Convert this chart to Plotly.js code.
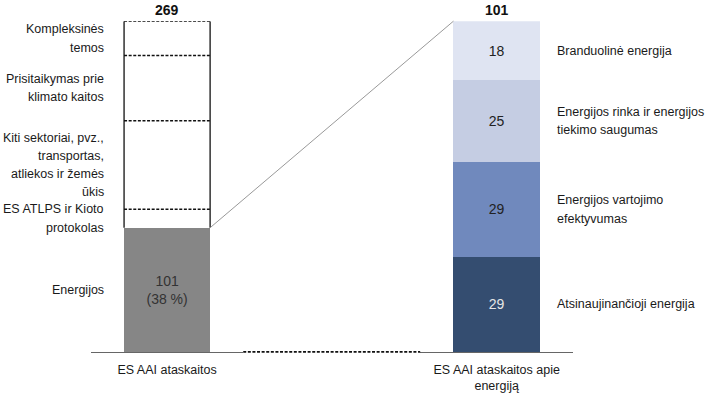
<!DOCTYPE html>
<html>
<head>
<meta charset="utf-8">
<script src="https://cdn.plot.ly/plotly-3.0.1.min.js"></script>
<style>html,body{margin:0;padding:0;background:#fff;}#chart{width:705px;height:399px;}</style>
</head>
<body>
<div id="chart"></div>
<script>
// ---- data ----
const barCategories = ['ES AAI ataskaitos', 'ES AAI ataskaitos apie<br>energiją'];
const leftSegments = ['Energijos', 'ES ATLPS ir Kioto<br>protokolas', 'Kiti sektoriai, pvz.,<br>transportas,<br>atliekos ir žemės<br>ūkis', 'Prisitaikymas prie<br>klimato kaitos', 'Kompleksinės<br>temos'];
const leftValues = [101, 15, 72, 53, 28];
const rightSegments = ['Atsinaujinančioji energija', 'Energijos vartojimo<br>efektyvumas', 'Energijos rinka ir energijos<br>tiekimo saugumas', 'Branduolinė energija'];
const rightValues = [29, 29, 25, 18];

// ---- styles ----
const FONT = '"Liberation Sans", Arial, sans-serif';
const LBL = 12.5, LINE_H = 18.3;
const leftColors = ['#868686', '#ffffff', '#ffffff', '#ffffff', '#ffffff'];
const rightColors = ['#344d70', '#7089bd', '#c5cde3', '#dfe4f2'];
const rightTextColors = ['#e6e6e6', '#222222', '#222222', '#222222'];
const BW = 0.565;
const yDom = [0.118, 0.947];
const xDom1 = [0.129, 0.345];
const xDom2 = [0.596, 0.813];
const DASH = '3px,1.6px';

const sum = a => a.reduce((s, v) => s + v, 0);
const leftTotal = sum(leftValues);
const rightTotal = sum(rightValues);
const cum = a => { let c = 0; return a.map(v => (c += v)); };
const leftCum = cum(leftValues);
const rightCum = cum(rightValues);

const traces = [];
leftValues.forEach((v, i) => {
  traces.push({
    type: 'bar', x: [0], y: [v], xaxis: 'x', yaxis: 'y', width: BW,
    marker: {color: leftColors[i], line: {width: 0}},
    text: i === 0 ? [v + '<br>(' + Math.round(v / leftTotal * 100) + ' %)'] : [''],
    textposition: 'inside', insidetextanchor: 'middle', textangle: 0,
    constraintext: 'none',
    textfont: {family: FONT, size: 14, color: '#333'},
    hoverinfo: 'skip', showlegend: false
  });
});
rightValues.forEach((v, i) => {
  traces.push({
    type: 'bar', x: [0], y: [v], xaxis: 'x2', yaxis: 'y2', width: BW,
    marker: {color: rightColors[i], line: {width: 0}},
    text: [String(v)], textposition: 'inside', insidetextanchor: 'middle', textangle: 0,
    constraintext: 'none',
    textfont: {family: FONT, size: 14, color: rightTextColors[i]},
    hoverinfo: 'skip', showlegend: false
  });
});

const shapes = [];
// outline of white segments on the left bar
shapes.push({type: 'line', xref: 'x', yref: 'y', x0: -BW / 2, x1: -BW / 2, y0: leftCum[0], y1: leftTotal, line: {color: '#111', width: 1.3}});
shapes.push({type: 'line', xref: 'x', yref: 'y', x0: BW / 2, x1: BW / 2, y0: leftCum[0], y1: leftTotal, line: {color: '#111', width: 1.3}});
for (let i = 1; i < leftCum.length; i++) {
  shapes.push({type: 'line', xref: 'x', yref: 'y', x0: -BW / 2, x1: BW / 2, y0: leftCum[i], y1: leftCum[i], line: {color: '#111', width: 1.5, dash: DASH}});
}
// connectors
const px = (dom, v) => dom[0] + (v + 0.5) * (dom[1] - dom[0]);
const py = (val, total) => yDom[0] + val / total * (yDom[1] - yDom[0]);
shapes.push({type: 'line', xref: 'paper', yref: 'paper', x0: px(xDom1, BW / 2), y0: py(leftValues[0], leftTotal), x1: px(xDom2, -BW / 2), y1: py(rightTotal, rightTotal), line: {color: '#999', width: 1}});
shapes.push({type: 'line', xref: 'paper', yref: 'paper', x0: xDom1[1], y0: yDom[0], x1: xDom2[0], y1: yDom[0], line: {color: '#111', width: 1.8, dash: DASH}});

const annotations = [];
// totals
annotations.push({xref: 'x', yref: 'y', x: 0, y: leftTotal, text: '<b>' + leftTotal + '</b>', showarrow: false, yanchor: 'bottom', yshift: 1, font: {family: FONT, size: 14, color: '#111'}});
annotations.push({xref: 'x2', yref: 'y2', x: 0, y: rightTotal, text: '<b>' + rightTotal + '</b>', showarrow: false, yanchor: 'bottom', yshift: 1, font: {family: FONT, size: 14, color: '#111'}});
// labels: each line placed separately for a looser line spacing
function addLabel(text, xPaper, yref, yVal, anchor) {
  const lines = text.split('<br>');
  const n = lines.length;
  lines.forEach((ln, k) => {
    annotations.push({xref: 'paper', yref: yref, x: xPaper, y: yVal, text: ln, showarrow: false,
      xanchor: anchor, yanchor: 'middle', align: anchor,
      yshift: ((n - 1) / 2 - k) * LINE_H,
      font: {family: FONT, size: LBL, color: '#1a1a1a'}});
  });
}
leftSegments.forEach((s, i) => addLabel(s, 106 / 705, 'y', leftCum[i] - leftValues[i] / 2, 'right'));
rightSegments.forEach((s, i) => addLabel(s, 555 / 705, 'y2', rightCum[i] - rightValues[i] / 2, 'left'));

const xCommon = {range: [-0.5, 0.5], showgrid: false, zeroline: false, showline: true, linecolor: '#666', linewidth: 1, ticks: '', tickvals: [0], ticklabelstandoff: 6, tickfont: {family: FONT, size: LBL, color: '#1a1a1a'}, fixedrange: true, automargin: false};
const yCommon = {showgrid: false, zeroline: false, showline: false, showticklabels: false, ticks: '', fixedrange: true, domain: yDom, automargin: false};

const layout = {
  width: 705, height: 399, autosize: false,
  margin: {l: 0, r: 0, t: 0, b: 0},
  paper_bgcolor: '#ffffff', plot_bgcolor: '#ffffff',
  barmode: 'stack', showlegend: false,
  font: {family: FONT},
  xaxis: Object.assign({}, xCommon, {domain: xDom1, anchor: 'y', ticktext: [barCategories[0]]}),
  xaxis2: Object.assign({}, xCommon, {domain: xDom2, anchor: 'y2', ticktext: [barCategories[1]]}),
  yaxis: Object.assign({}, yCommon, {range: [0, leftTotal], anchor: 'x'}),
  yaxis2: Object.assign({}, yCommon, {range: [0, rightTotal], anchor: 'x2'}),
  shapes: shapes, annotations: annotations
};

Plotly.newPlot('chart', traces, layout, {staticPlot: true, displayModeBar: false});
</script>
</body>
</html>
